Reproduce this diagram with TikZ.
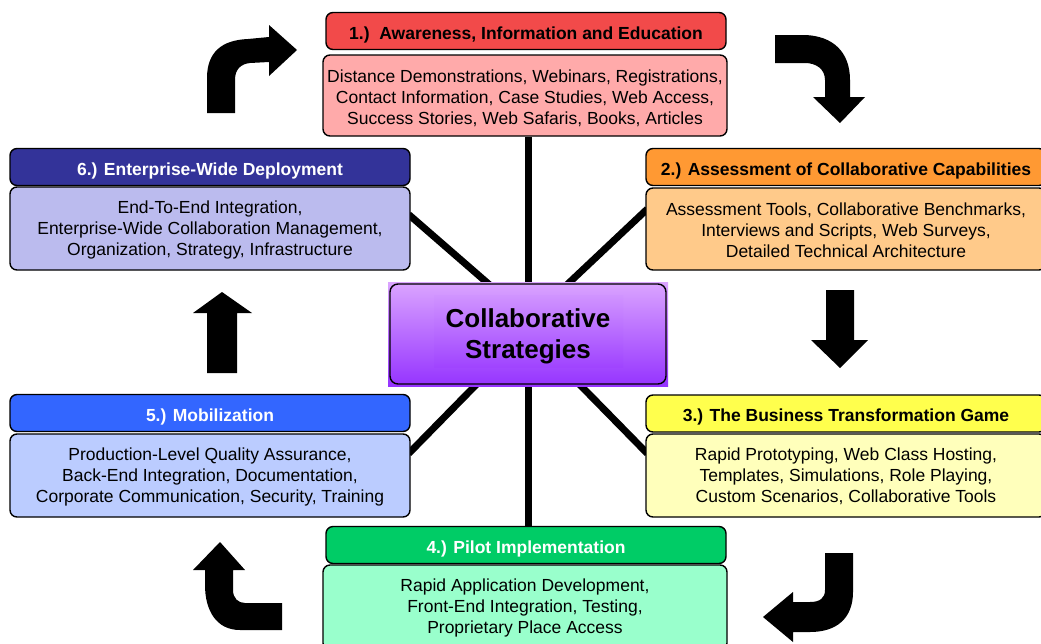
\documentclass[tikz,border=0pt]{standalone}
\usepackage{fontspec}
\setmainfont{Liberation Sans}
\usetikzlibrary{calc,backgrounds}
\definecolor{redH}{HTML}{F24A4A}
\definecolor{redB}{HTML}{FFAAAA}
\definecolor{orgH}{HTML}{FF9933}
\definecolor{orgB}{HTML}{FFCA8A}
\definecolor{yelH}{HTML}{FFFF4D}
\definecolor{yelB}{HTML}{FFFFBB}
\definecolor{grnH}{HTML}{00CC66}
\definecolor{grnB}{HTML}{99FFCC}
\definecolor{bluH}{HTML}{3366FF}
\definecolor{bluB}{HTML}{BBCCFF}
\definecolor{navH}{HTML}{333399}
\definecolor{navB}{HTML}{BBBBEE}
\definecolor{purT}{HTML}{DBA5FF}
\definecolor{purB}{HTML}{9533FF}
% struts that push the first text line of a box a little lower
\newcommand{\toppad}{\rule{0pt}{19pt}}
\newcommand{\smallpad}{\rule{0pt}{15pt}}
\begin{document}
\begin{tikzpicture}[x=1pt,y=-1pt,
  panel/.style={draw=black,line width=1.4pt,rounded corners=7pt,
    minimum width=400pt,inner sep=0pt,align=center},
  hdr/.style={panel,minimum height=37pt,font=\fontsize{17.5}{20}\selectfont\bfseries,
    text height=16.6pt,text depth=0pt},
  body/.style={panel,font=\fontsize{17.5}{21}\selectfont},
  spoke/.style={line width=7pt},
  blockarrow/.style={fill=black}]
\useasboundingbox (0,0) rectangle (1041,643);
\begin{scope}
\clip (0,0) rectangle (1041,643);

% step panels: header strip and detail box
\node[hdr,fill=redH] (h1) at (526,31) {1.)\ \ Awareness, Information and Education};
\node[body,fill=redB,minimum width=404pt,minimum height=81pt] (b1) at (525,95.5)
  {\toppad Distance Demonstrations, Webinars, Registrations,\\Contact Information, Case Studies, Web Access,\\Success Stories, Web Safaris, Books, Articles};

\node[hdr,fill=orgH] (h2) at (846,167) {2.) Assessment of Collaborative Capabilities};
\node[body,fill=orgB,minimum height=82pt] (b2) at (846,229)
  {\smallpad Assessment Tools, Collaborative Benchmarks,\\Interviews and Scripts, Web Surveys,\\Detailed Technical Architecture};

\node[hdr,fill=yelH] (h3) at (846,413.5) {3.) The Business Transformation Game};
\node[body,fill=yelB,minimum height=83pt] (b3) at (846,475.5)
  {\smallpad Rapid Prototyping, Web Class Hosting,\\Templates, Simulations, Role Playing,\\Custom Scenarios, Collaborative Tools};

\node[hdr,fill=grnH,text=white] (h4) at (526,545) {4.) Pilot Implementation};
\node[body,fill=grnB,minimum width=404pt,minimum height=85pt] (b4) at (525,607.5)
  {Rapid Application Development,\\Front-End Integration, Testing,\\Proprietary Place Access};

\node[hdr,fill=bluH,text=white] (h5) at (210,413) {5.) Mobilization};
\node[body,fill=bluB,minimum height=83pt] (b5) at (210,475.5)
  {\smallpad Production-Level Quality Assurance,\\Back-End Integration, Documentation,\\Corporate Communication, Security, Training};

\node[hdr,fill=navH,text=white] (h6) at (210,167) {6.) Enterprise-Wide Deployment};
\node[body,fill=navB,minimum height=83pt] (b6) at (210,228.5)
  {\smallpad End-To-End Integration,\\Enterprise-Wide Collaboration Management,\\Organization, Strategy, Infrastructure};

% central hub
\shade[top color=purT,bottom color=purB] (388,282) rectangle (668,386);
\shade[top color=purT!85!purB,bottom color=purB!85!purT] (434,295) rectangle (623,367);
\node[draw=black,line width=1.4pt,rounded corners=8pt,minimum width=276pt,
  minimum height=100pt,align=center,
  font=\fontsize{26}{31}\selectfont\bfseries] (c) at (528,334)
  {\rule{0pt}{24pt}Collaborative\\Strategies};

% spokes from the hub to every panel, kept behind the boxes
\begin{pgfonlayer}{background}
\draw[spoke] (b1.south -| c.center) -- (h4.north -| c.center);
\draw[spoke] ($(b6.east)+(-2,-14)$) -- ($(c.north)+(-31,8)$);
\draw[spoke] ($(b2.west)+(2,-20)$) -- ($(c.north)+(32,8)$);
\draw[spoke] ($(b5.east)+(-2,-22)$) -- ($(c.south)+(-44,-8)$);
\draw[spoke] ($(b3.west)+(2,-22)$) -- ($(c.south)+(44,-8)$);
\end{pgfonlayer}

% cycle arrows
\fill[blockarrow] (207,113) -- (207,78) .. controls (207,52) and (222,40) .. (248,39)
  -- (269,37) -- (269,25) -- (297,50) -- (269,76) -- (269,62) -- (250,63)
  .. controls (241,64) and (235,69) .. (235,80) -- (235,113) -- cycle;
\fill[blockarrow] (775,35) -- (805,35) .. controls (833,36) and (850,52) .. (850,80)
  -- (850,97) -- (865,97) -- (840,123) -- (813,97) -- (825,97) -- (825,80)
  .. controls (825,69) and (816,63) .. (805,63) -- (775,63) -- cycle;
\fill[blockarrow] (826,290) -- (854,290) -- (854,340) -- (868,340) -- (840,368)
  -- (811,340) -- (826,340) -- cycle;
\fill[blockarrow] (825,553) -- (853,553) -- (853,592) .. controls (853,618) and (837,632) .. (810,632)
  -- (793,632) -- (793,642) -- (763,617) -- (793,592) -- (793,602) -- (810,602)
  .. controls (820,602) and (825,598) .. (825,590) -- cycle;
\fill[blockarrow] (282,603) -- (282,630) -- (240,630) .. controls (216,630) and (205,610) .. (205,585)
  -- (205,570) -- (193,570) -- (220,542) -- (245,570) -- (233,570) -- (233,590)
  .. controls (233,598) and (238,603) .. (245,603) -- cycle;
\fill[blockarrow] (207,373) -- (207,313) -- (193,313) -- (222,292) -- (252,313)
  -- (237,313) -- (237,373) -- cycle;
\end{scope}
\end{tikzpicture}
\end{document}
